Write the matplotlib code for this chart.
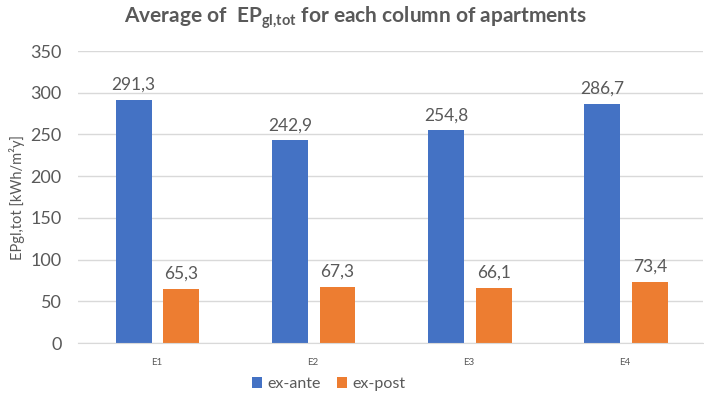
import matplotlib
matplotlib.use("Agg")
import matplotlib.pyplot as plt
import numpy as np

categories = ["E1", "E2", "E3", "E4"]
ex_ante = [291.3, 242.9, 254.8, 286.7]
ex_post = [65.3, 67.3, 66.1, 73.4]
yticks = [0, 50, 100, 150, 200, 250, 300, 350]

plt.rcParams['font.family'] = ['Lato', 'DejaVu Sans']
plt.rcParams['mathtext.fontset'] = 'custom'
plt.rcParams['mathtext.rm'] = 'Lato:bold'
plt.rcParams['mathtext.bf'] = 'Lato:bold'
plt.rcParams['mathtext.it'] = 'Lato:bold'

GRAY = '#595959'
BLUE = '#4472C4'
ORANGE = '#ED7D31'

fig = plt.figure(figsize=(7.04, 4.0), dpi=100)
ax = fig.add_axes([0.111, 0.1425, 0.8876, 0.73])

x = np.arange(len(categories))
w = 0.23
b1 = ax.bar(x - 0.145, ex_ante, w, color=BLUE, label='ex-ante', zorder=3)
b2 = ax.bar(x + 0.16, ex_post, w, color=ORANGE, label='ex-post', zorder=3)

for bars, vals in ((b1, ex_ante), (b2, ex_post)):
    for r, v in zip(bars, vals):
        ax.annotate(f"{v:.1f}".replace('.', ','), (r.get_x() + r.get_width() / 2, v),
                    xytext=(0, 5), textcoords='offset points', ha='center', va='bottom',
                    fontsize=12.5, color=GRAY)

ax.set_xlim(-0.5, 3.5)
ax.set_ylim(0, 350)
ax.set_yticks(yticks)
ax.set_xticks(x)
ax.set_xticklabels(categories, fontsize=7, color=GRAY)
ax.tick_params(axis='y', labelsize=13, colors=GRAY, length=0, pad=12)
ax.tick_params(axis='x', length=0, pad=11)
ax.grid(axis='y', color='#D9D9D9', linewidth=1, zorder=0)
for s in ('top', 'right', 'left'):
    ax.spines[s].set_visible(False)
ax.spines['bottom'].set_color('#D9D9D9')
ax.spines['bottom'].set_zorder(4)

ax.set_ylabel('EPgl,tot [kWh/m²y]', fontsize=10.5, color=GRAY)
ax.yaxis.set_label_coords(-0.085, 0.5)

fig.text(0.505, 0.955, r'Average of  EP$_{gl{,}tot}$ for each column of apartments',
         ha='center', va='center', fontsize=15, fontweight='bold', color=GRAY)

fig.legend(loc='center', bbox_to_anchor=(0.467, 0.04), ncol=2, frameon=False,
           fontsize=11.5, labelcolor=GRAY, handlelength=0.65, handleheight=0.65,
           handletextpad=0.35, columnspacing=1.0)

fig.savefig('out.png', dpi=100)
